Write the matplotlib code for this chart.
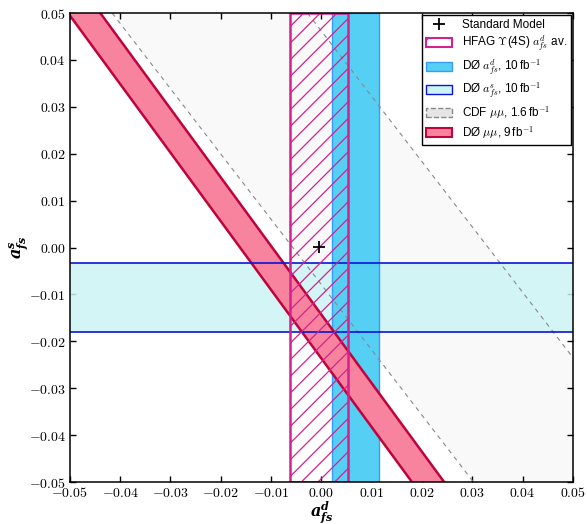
import matplotlib
matplotlib.use('Agg')
import matplotlib.pyplot as plt
from matplotlib.patches import Patch
from matplotlib.lines import Line2D
from matplotlib.ticker import FuncFormatter
import numpy as np

plt.rcParams['mathtext.fontset'] = 'cm'
plt.rcParams['font.family'] = ['Liberation Sans', 'DejaVu Sans']
plt.rcParams['hatch.linewidth'] = 0.9

# Standard Model point (a_fs^d, a_fs^s)
sm_point = [-0.00041, 0.00002]

# HFAG Y(4S) average of a_fs^d : centre, error
hfag_ad = [-0.0005, 0.0058]
# D0 a_fs^d and a_fs^s, 10 fb^-1
d0_ad = [0.0068, 0.0047]
d0_as = [-0.0106, 0.0074]

# dimuon asymmetries  A = c_d*a_d + c_s*a_s : [A, error, c_d, c_s]
cdf_mumu = [0.0080, 0.0113, 0.582, 0.418]
d0_mumu = [-0.0077, 0.0019, 0.594, 0.406]

ticks = [-0.05, -0.04, -0.03, -0.02, -0.01, 0.00, 0.01, 0.02, 0.03, 0.04, 0.05]

c_pink, c_crimson = '#f7839f', '#c0033c'
c_magenta = '#d4228c'
c_sky, c_sky_edge = '#56cff5', '#3a9cf7'
c_cyan, c_blue = '#ccf4f4', '#0a14d8'
c_gray = '#888888'


def band_line(x, A, c_d, c_s):
	return (A - c_d * x) / c_s


fig = plt.figure(figsize=(5.87, 5.24), dpi=100)
ax = fig.add_axes([0.119, 0.080, 0.857, 0.895])

x = np.linspace(-0.07, 0.07, 3)

# CDF mu mu band
A, e, cd, cs = cdf_mumu
ax.fill_between(x, band_line(x, A - e, cd, cs), band_line(x, A + e, cd, cs),
	color='#f9f9f9', lw=0, zorder=1)
for s in (-1, 1):
	ax.plot(x, band_line(x, A + s * e, cd, cs), color=c_gray, lw=0.8,
		ls=(0, (4, 4)), zorder=6)

# D0 a_fs^s horizontal band
ax.axhspan(d0_as[0] - d0_as[1], d0_as[0] + d0_as[1], color=c_cyan, alpha=0.85,
	lw=0, zorder=2)
for s in (-1, 1):
	ax.axhline(d0_as[0] + s * d0_as[1], color=c_blue, lw=1.2, zorder=7)

# D0 a_fs^d vertical band
ax.axvspan(d0_ad[0] - d0_ad[1], d0_ad[0] + d0_ad[1], facecolor=c_sky,
	edgecolor=c_sky_edge, lw=1.0, zorder=3)

# D0 mu mu band
A, e, cd, cs = d0_mumu
ax.fill_between(x, band_line(x, A - e, cd, cs), band_line(x, A + e, cd, cs),
	color=c_pink, lw=0, zorder=4)
for s in (-1, 1):
	ax.plot(x, band_line(x, A + s * e, cd, cs), color=c_crimson, lw=1.8, zorder=5)

# HFAG hatched band
ax.axvspan(hfag_ad[0] - hfag_ad[1], hfag_ad[0] + hfag_ad[1], facecolor='none',
	edgecolor=c_magenta, hatch='//', lw=1.8, zorder=8)

# Standard Model
ax.plot(sm_point[0], sm_point[1], marker='+', color='black', ms=9, mew=1.3,
	ls='none', zorder=9)

ax.set_xlim(-0.05, 0.05)
ax.set_ylim(-0.05, 0.05)
ax.set_xticks(ticks)
ax.set_yticks(ticks)
fmt = FuncFormatter(lambda v, p: '$%.2f$' % (0.0 if abs(v) < 1e-9 else v))
ax.xaxis.set_major_formatter(fmt)
ax.yaxis.set_major_formatter(fmt)
ax.tick_params(direction='in', top=True, right=True, length=4, width=1,
	labelsize=10, pad=3)
for sp in ax.spines.values():
	sp.set_linewidth(1.1)
	sp.set_zorder(10)

ax.set_xlabel(r'$\mathbfit{a^d_{fs}}$', fontsize=11.5, math_fontfamily='dejavuserif')
ax.set_ylabel(r'$\mathbfit{a^s_{fs}}$', fontsize=11.5, math_fontfamily='dejavuserif')
ax.xaxis.set_label_coords(0.5, -0.038)
ax.yaxis.set_label_coords(-0.08, 0.5)

handles = [
	Line2D([], [], marker='+', color='black', ms=9, mew=1.3, ls='none'),
	Patch(facecolor='white', edgecolor=c_magenta, hatch='/', lw=1.5),
	Patch(facecolor=c_sky, edgecolor=c_sky_edge, lw=1.0),
	Patch(facecolor=c_cyan, edgecolor=c_blue, lw=1.0),
	Patch(facecolor='#e6e6e6', edgecolor=c_gray, ls='--', lw=1.0),
	Patch(facecolor=c_pink, edgecolor=c_crimson, lw=1.5),
]
labels = [
	'Standard Model',
	r'HFAG $\Upsilon$(4S) $a^d_{fs}$ av.',
	r'DØ $a^d_{fs}$, 10$\,$fb$^{-1}$',
	r'DØ $a^s_{fs}$, 10$\,$fb$^{-1}$',
	r'CDF $\mu\mu$, 1.6$\,$fb$^{-1}$',
	r'DØ $\mu\mu$, 9$\,$fb$^{-1}$',
]
leg = ax.legend(handles, labels, loc='upper right', fontsize=8.5, fancybox=False,
	framealpha=1, edgecolor='black', borderaxespad=0.15, handlelength=2.2,
	handleheight=0.8, labelspacing=0.25, borderpad=0.35, handletextpad=0.8)
leg.get_frame().set_linewidth(1.0)
leg.set_zorder(11)

plt.savefig('out.png', dpi=100)
